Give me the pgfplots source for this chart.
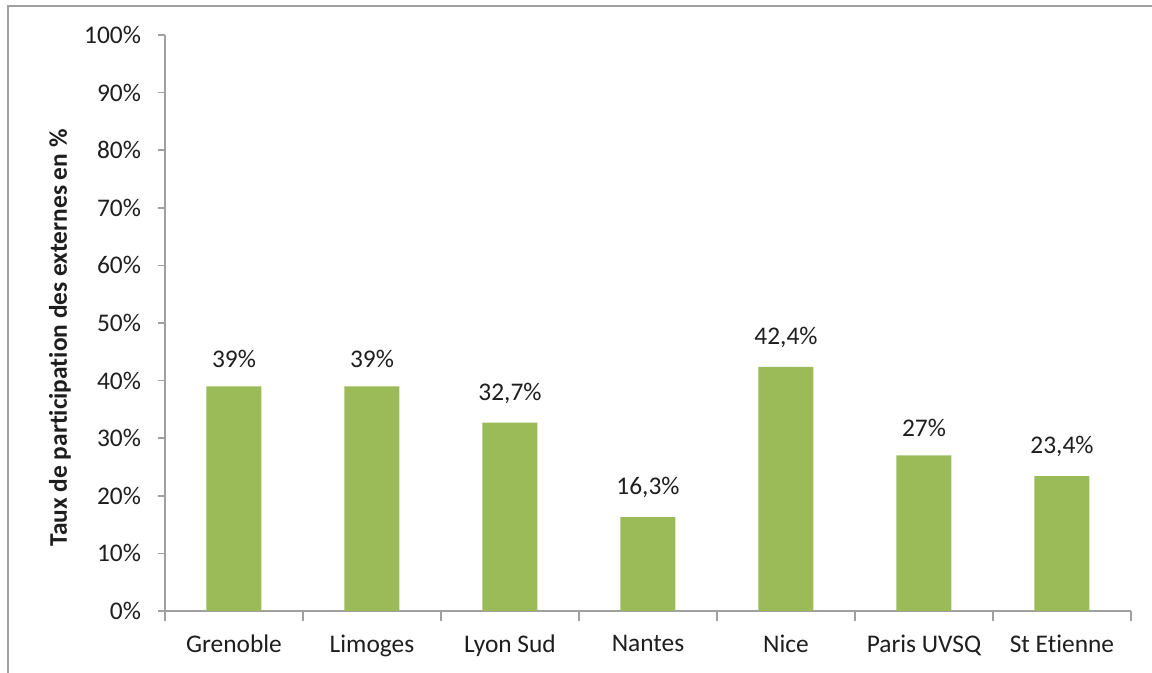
\documentclass[border=0pt]{standalone}
\usepackage{pgfplots}
\pgfplotsset{compat=1.18}
\usepackage{fontspec}
\setmainfont{Carlito}[Ligatures={NoCommon}]
\definecolor{bargreen}{HTML}{9BBB59}
\definecolor{axgray}{HTML}{A0A0A0}
\definecolor{txt}{HTML}{1E1E1E}
\begin{document}
\begin{tikzpicture}
\draw[axgray, line width=0.8pt] (4pt,0pt) -- (4pt,333.5pt) -- (576pt,333.5pt);
\begin{axis}[
  at={(82.5pt,31pt)}, anchor=south west,
  scale only axis, width=483pt, height=288pt,
  font=\fontsize{12.7}{15}\selectfont\color{txt},
  xmin=-0.5, xmax=6.5, ymin=0, ymax=100,
  axis x line*=bottom, axis y line*=left,
  axis line style={axgray, line width=0.8pt, -},
  separate axis lines,
  tick align=outside,
  xtick={0,...,6},
  xticklabels={Grenoble,Limoges,Lyon Sud,Nantes,Nice,Paris UVSQ,St Etienne},
  minor xtick={-0.5,0.5,...,6.5},
  major x tick style={draw=none},
  minor x tick style={axgray, line width=0.8pt},
  minor tick length=5pt,
  major tick length=3.5pt,
  y tick style={axgray, line width=0.8pt},
  ytick={0,10,...,100},
  yticklabel={\pgfmathprintnumber{\tick}\%},
  yticklabel style={xshift=-5pt},
  xticklabel style={yshift=-5pt},
  /pgf/number format/assume math mode=true,
  ylabel={\bfseries Taux de participation des externes en \%},
  ylabel style={at={(axis description cs:-0.1087,0.474)}, anchor=center},
  ybar, bar width=27.5pt,
  nodes near coords,
  point meta=explicit symbolic,
  every node near coord/.append style={yshift=6pt, font=\fontsize{12.7}{15}\selectfont\color{txt}},
]
\addplot[fill=bargreen, draw=none] coordinates {
  (0,39) [39\%]
  (1,39) [39\%]
  (2,32.7) [32,7\%]
  (3,16.3) [16,3\%]
  (4,42.4) [42,4\%]
  (5,27) [27\%]
  (6,23.4) [23,4\%]
};
\end{axis}
\pgfresetboundingbox
\useasboundingbox (0,0) rectangle (576pt,336.5pt);
\end{tikzpicture}
\end{document}
